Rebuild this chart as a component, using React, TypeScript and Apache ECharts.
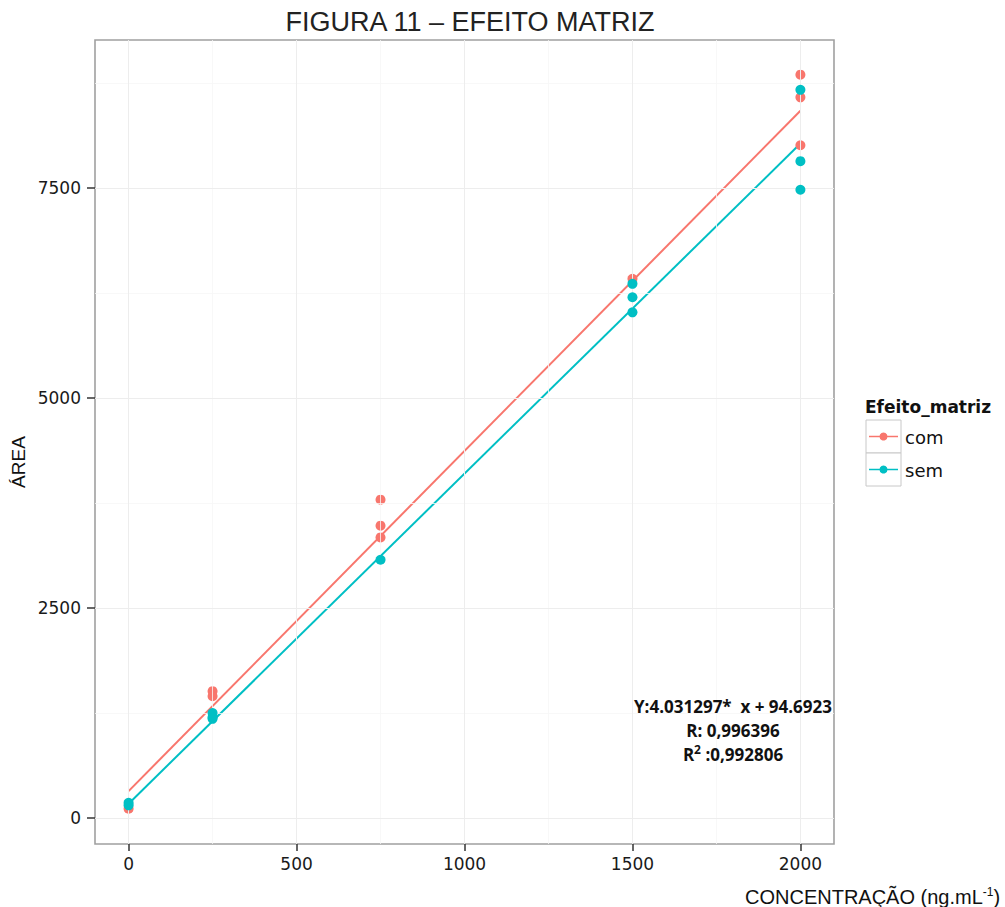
import React, { useEffect, useRef } from "react";
import * as echarts from "echarts";

const xTicks = [0, 500, 1000, 1500, 2000];
const xMinor = [250, 750, 1250, 1750];
const yTicks = [0, 2500, 5000, 7500];
const yMinor = [1250, 3750, 6250, 8750];

const comPoints: [number, number][] = [
  [0, 110],
  [250, 1510],
  [250, 1450],
  [750, 3790],
  [750, 3480],
  [750, 3340],
  [1500, 6420],
  [2000, 8850],
  [2000, 8580],
  [2000, 8010],
];
const semPoints: [number, number][] = [
  [0, 180],
  [0, 150],
  [250, 1250],
  [250, 1200],
  [250, 1180],
  [750, 3075],
  [1500, 6360],
  [1500, 6200],
  [1500, 6020],
  [2000, 8670],
  [2000, 7820],
  [2000, 7480],
];
const comFit: [number, number][] = [
  [0, 320],
  [2000, 8420],
];
const semFit: [number, number][] = [
  [0, 170],
  [2000, 8030],
];

const RED = "#F8766D";
const TEAL = "#00BFC4";
const AXFONT = "DejaVu Sans, Verdana, sans-serif";
const NARROW = "Liberation Sans Narrow, Arial Narrow, Liberation Sans, sans-serif";
const EQFONT = "Open Sans, Noto Sans, sans-serif";

export default function App() {
  const ref = useRef<HTMLDivElement>(null);
  useEffect(() => {
    if (!ref.current) return;
    const chart = echarts.init(ref.current, null, { renderer: "svg" });
    const gridLine = (vals: number[], axis: "xAxis" | "yAxis", color: string, width: number) =>
      vals.map((v) => ({ [axis]: v, lineStyle: { color, width, type: "solid" } }));
    const txt = (x: number, y: number, style: any, extra: any = {}) => ({
      type: "text",
      x,
      y,
      z: 100,
      style,
      ...extra,
    });
    chart.setOption({
      animation: false,
      backgroundColor: "#ffffff",
      grid: {
        left: 95,
        top: 40,
        width: 739,
        height: 804,
        show: true,
        borderColor: "#a0a0a0",
        borderWidth: 1.6,
        backgroundColor: "transparent",
        containLabel: false,
      },
      xAxis: {
        type: "value",
        min: -100,
        max: 2100,
        axisLine: { show: false, onZero: false },
        axisTick: {
          show: true,
          customValues: xTicks,
          length: 7,
          lineStyle: { color: "#333", width: 1.5 },
        },
        axisLabel: {
          customValues: xTicks,
          formatter: (v: number) => String(v),
          fontSize: 17,
          color: "#1a1a1a",
          margin: 11,
          fontFamily: AXFONT,
        },
        splitLine: { show: false },
      },
      yAxis: {
        type: "value",
        min: -310,
        max: 9263,
        axisLine: { show: false, onZero: false },
        axisTick: {
          show: true,
          customValues: yTicks,
          length: 8,
          lineStyle: { color: "#333", width: 1.5 },
        },
        axisLabel: {
          customValues: yTicks,
          formatter: (v: number) => String(v),
          fontSize: 17,
          color: "#1a1a1a",
          margin: 14,
          fontFamily: AXFONT,
        },
        splitLine: { show: false },
      },
      series: [
        {
          type: "scatter",
          data: [],
          z: 1,
          silent: true,
          markLine: {
            silent: true,
            symbol: ["none", "none"],
            label: { show: false },
            data: [
              ...gridLine(xMinor, "xAxis", "#F6F6F6", 0.8),
              ...gridLine(yMinor, "yAxis", "#F6F6F6", 0.8),
              ...gridLine(xTicks, "xAxis", "#EDEDED", 1),
              ...gridLine(yTicks, "yAxis", "#EDEDED", 1),
            ],
          },
        },
        {
          name: "com-fit",
          type: "line",
          data: comFit,
          showSymbol: false,
          z: 3,
          lineStyle: { color: RED, width: 2 },
        },
        {
          name: "sem-fit",
          type: "line",
          data: semFit,
          showSymbol: false,
          z: 3,
          lineStyle: { color: TEAL, width: 2 },
        },
        {
          name: "com",
          type: "scatter",
          data: comPoints,
          symbolSize: 10,
          z: 4,
          itemStyle: { color: RED, opacity: 1 },
        },
        {
          name: "sem",
          type: "scatter",
          data: semPoints,
          symbolSize: 10,
          z: 5,
          itemStyle: { color: TEAL, opacity: 1 },
        },
      ],
      graphic: [
        txt(470, 22, {
          text: "FIGURA 11 – EFEITO MATRIZ",
          textAlign: "center",
          textVerticalAlign: "middle",
          fontSize: 27,
          fontFamily: NARROW,
          fill: "#222",
        }),
        txt(
          18,
          462,
          {
            text: "ÁREA",
            textAlign: "center",
            textVerticalAlign: "middle",
            fontSize: 19,
            fontFamily: NARROW,
            fill: "#111",
          },
          { rotation: Math.PI / 2 }
        ),
        txt(745, 896, {
          text: "{m|CONCENTRAÇÃO (ng.mL}{s|-1}{m|)}",
          textAlign: "left",
          textVerticalAlign: "middle",
          rich: {
            m: { fontSize: 20, fontFamily: NARROW, fill: "#111", verticalAlign: "bottom" },
            s: {
              fontSize: 12,
              fontFamily: NARROW,
              fill: "#111",
              padding: [0, 0, 9, 0],
              verticalAlign: "bottom",
            },
          },
        }),
        txt(733, 706, {
          text: "Y:4.031297*  x + 94.6923",
          textAlign: "center",
          textVerticalAlign: "middle",
          fontSize: 17,
          fontWeight: "bold",
          fontFamily: EQFONT,
          fill: "#111",
        }),
        txt(733, 730, {
          text: "R: 0,996396",
          textAlign: "center",
          textVerticalAlign: "middle",
          fontSize: 17,
          fontWeight: "bold",
          fontFamily: EQFONT,
          fill: "#111",
        }),
        txt(733, 753, {
          text: "{a|R}{b|2}{a| :0,992806}",
          textAlign: "center",
          textVerticalAlign: "middle",
          rich: {
            a: {
              fontSize: 17,
              fontWeight: "bold",
              fontFamily: EQFONT,
              fill: "#111",
              verticalAlign: "bottom",
            },
            b: {
              fontSize: 12,
              fontWeight: "bold",
              fontFamily: EQFONT,
              fill: "#111",
              padding: [0, 0, 8, 0],
              verticalAlign: "bottom",
            },
          },
        }),
        // legend
        txt(865, 407, {
          text: "Efeito_matriz",
          textAlign: "left",
          textVerticalAlign: "middle",
          fontSize: 17,
          fontWeight: "bold",
          fontFamily: AXFONT,
          fill: "#111",
        }),
        {
          type: "rect",
          z: 100,
          shape: { x: 866, y: 420, width: 35, height: 33 },
          style: { fill: "#fff", stroke: "#c8c8c8", lineWidth: 1 },
        },
        {
          type: "rect",
          z: 100,
          shape: { x: 866, y: 453, width: 35, height: 33 },
          style: { fill: "#fff", stroke: "#c8c8c8", lineWidth: 1 },
        },
        {
          type: "line",
          z: 101,
          shape: { x1: 869, y1: 436.5, x2: 898, y2: 436.5 },
          style: { stroke: RED, lineWidth: 1.5 },
        },
        {
          type: "circle",
          z: 102,
          shape: { cx: 883.5, cy: 436.5, r: 4 },
          style: { fill: RED },
        },
        {
          type: "line",
          z: 101,
          shape: { x1: 869, y1: 469.5, x2: 898, y2: 469.5 },
          style: { stroke: TEAL, lineWidth: 1.5 },
        },
        {
          type: "circle",
          z: 102,
          shape: { cx: 883.5, cy: 469.5, r: 4 },
          style: { fill: TEAL },
        },
        txt(905, 437, {
          text: "com",
          textAlign: "left",
          textVerticalAlign: "middle",
          fontSize: 18,
          fontFamily: AXFONT,
          fill: "#111",
        }),
        txt(905, 470, {
          text: "sem",
          textAlign: "left",
          textVerticalAlign: "middle",
          fontSize: 18,
          fontFamily: AXFONT,
          fill: "#111",
        }),
      ],
    });
    return () => chart.dispose();
  }, []);
  return <div ref={ref} style={{ width: 1005, height: 907, position: "absolute", left: 0, top: 0 }} />;
}
